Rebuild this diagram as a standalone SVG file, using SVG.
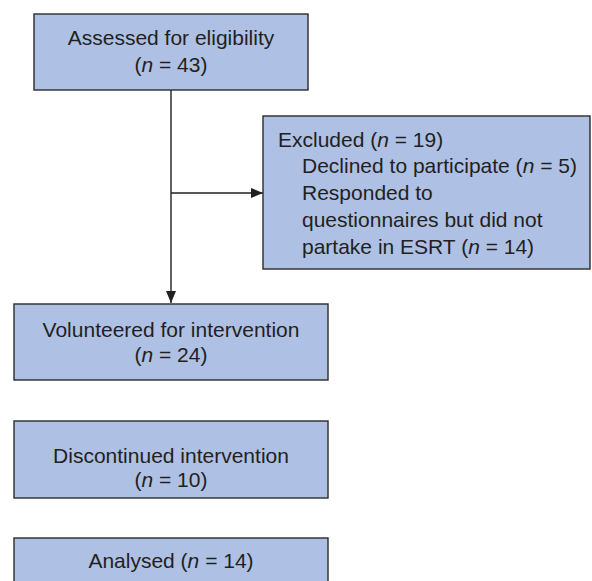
<svg xmlns="http://www.w3.org/2000/svg" width="592" height="581" viewBox="0 0 592 581">
<style>
.box{fill:#aec1e4;stroke:#2b2b2b;stroke-width:1.4}
text{font-family:"Liberation Sans",Arial,sans-serif;font-size:21px;fill:#231f20}
.c{text-anchor:middle}
.ln{stroke:#231f20;stroke-width:1.4;fill:none}
</style>
<defs>
<marker id="ah" markerWidth="12" markerHeight="10" refX="12" refY="5" orient="auto" markerUnits="userSpaceOnUse">
<path d="M0,0 L12,5 L0,10 Z" fill="#231f20"/>
</marker>
</defs>
<rect width="592" height="581" fill="#fff"/>
<g id="connectors">
<line class="ln" x1="171" y1="90" x2="171" y2="303" marker-end="url(#ah)"/>
<line class="ln" x1="171" y1="193" x2="263" y2="193" marker-end="url(#ah)"/>
</g>
<g id="assessed">
<rect class="box" x="34" y="14" width="274" height="76"/>
<text class="c" x="171" y="45">Assessed for eligibility</text>
<text class="c" x="171" y="72">(<tspan font-style="italic">n</tspan> = 43)</text>
</g>
<g id="excluded">
<rect class="box" x="263" y="116" width="327" height="153"/>
<text x="278" y="147">Excluded (<tspan font-style="italic">n</tspan> = 19)</text>
<text x="302" y="173">Declined to participate (<tspan font-style="italic">n</tspan> = 5)</text>
<text x="302" y="200">Responded to</text>
<text x="302" y="227">questionnaires but did not</text>
<text x="302" y="254">partake in ESRT (<tspan font-style="italic">n</tspan> = 14)</text>
</g>
<g id="volunteered">
<rect class="box" x="14" y="304" width="314" height="76"/>
<text class="c" x="171" y="337">Volunteered for intervention</text>
<text class="c" x="171" y="362">(<tspan font-style="italic">n</tspan> = 24)</text>
</g>
<g id="discontinued">
<rect class="box" x="14" y="421" width="314" height="77"/>
<text class="c" x="171" y="463">Discontinued intervention</text>
<text class="c" x="171" y="487">(<tspan font-style="italic">n</tspan> = 10)</text>
</g>
<g id="analysed">
<rect class="box" x="14" y="538" width="314" height="46"/>
<text class="c" x="171" y="568">Analysed (<tspan font-style="italic">n</tspan> = 14)</text>
</g>
</svg>
